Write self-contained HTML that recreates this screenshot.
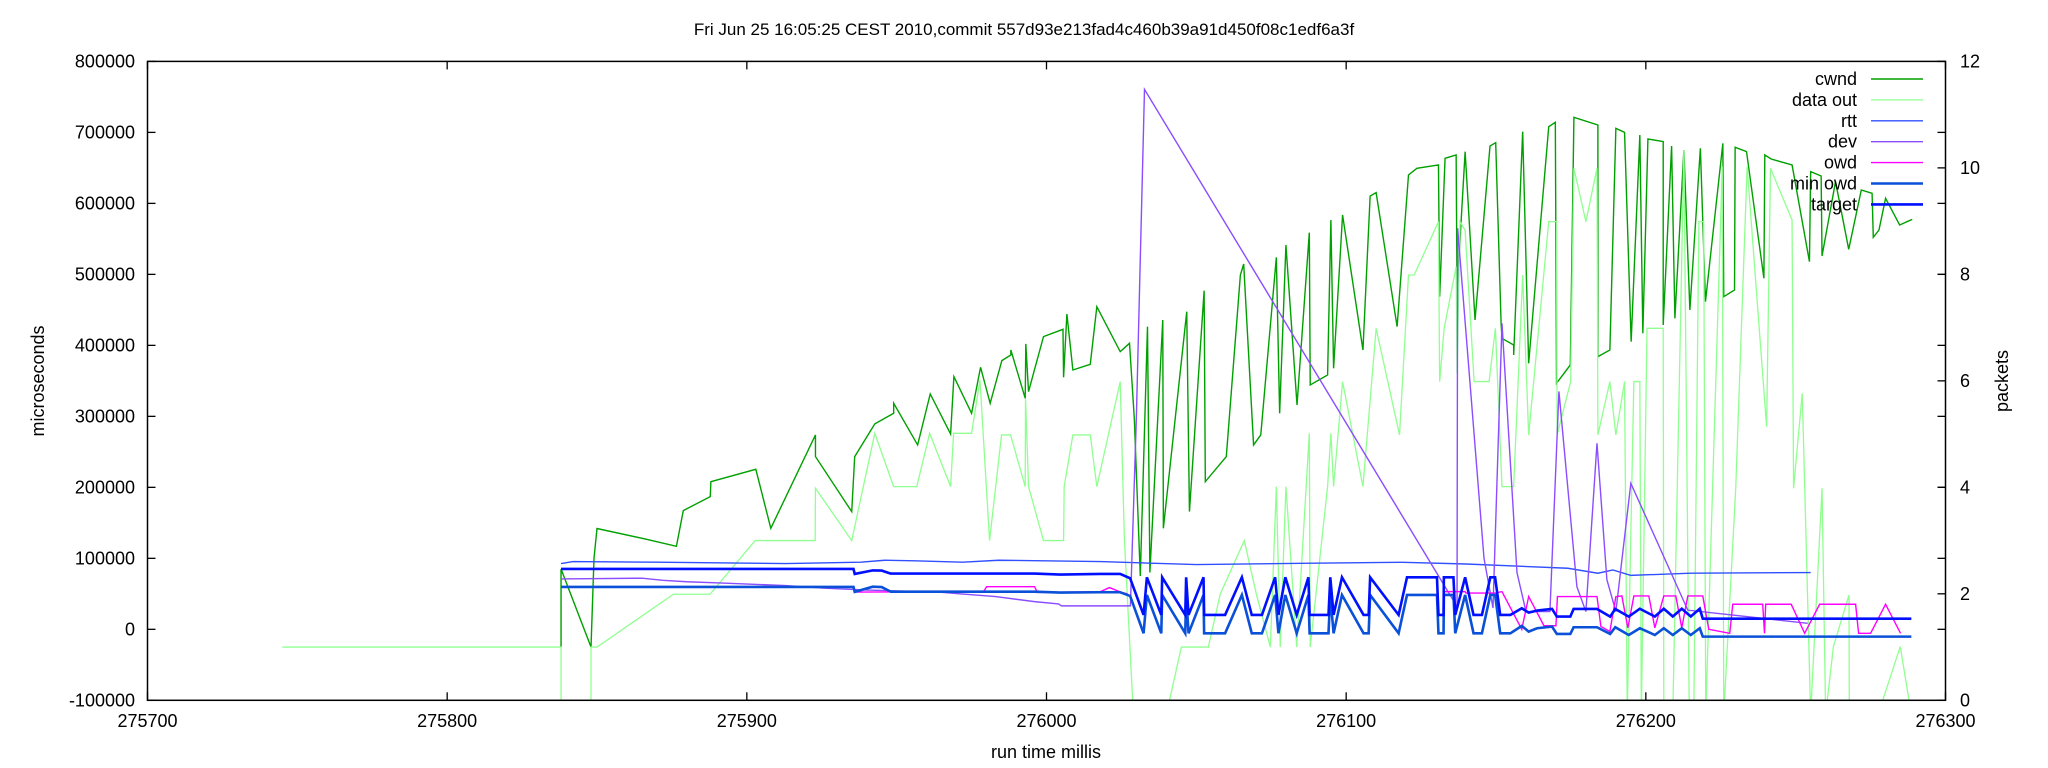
<!DOCTYPE html>
<html><head><meta charset="utf-8"><style>
html,body{margin:0;padding:0;background:#fff;}
svg{display:block;font-family:"Liberation Sans",Arial,sans-serif;}
</style></head><body>
<svg id="chart" width="2048" height="768" viewBox="0 0 2048 768" xmlns="http://www.w3.org/2000/svg">
<defs><clipPath id="clip"><rect x="147.5" y="61.4" width="1798" height="638.9"/></clipPath></defs>
<rect width="2048" height="768" fill="#fff"/>
<text x="1024" y="35" font-size="17" text-anchor="middle">Fri Jun 25 16:05:25 CEST 2010,commit 557d93e213fad4c460b39a91d450f08c1edf6a3f</text>
<text x="1046" y="758" font-size="18" text-anchor="middle">run time millis</text>
<text transform="translate(44,381) rotate(-90)" font-size="18" text-anchor="middle">microseconds</text>
<text transform="translate(2008,381) rotate(-90)" font-size="18" text-anchor="middle">packets</text>
<g id="ticks"></g>
<g id="series" clip-path="url(#clip)"></g>
<rect x="147.5" y="61.4" width="1798" height="638.9" fill="none" stroke="#000" stroke-width="1.5"/>
<g id="legend"></g>
</svg>
<script>
const xTicks = [275700,275800,275900,276000,276100,276200,276300];
const yTicks = [-100000,0,100000,200000,300000,400000,500000,600000,700000,800000];
const y2Ticks = [0,2,4,6,8,10,12];

const cwndT = [275838,275838,275848,275849,275850,275866,275876.5,275878.8,275887.8,275888,275903,275908,275922.9,275922.9,275935,275936,275942.7,275949,275949,275957,275961.2,275968,275969.1,275975,275978,275981.2,275985.1,275988.1,275988.1,275992.9,275993.1,275994,275999,276005.5,276005.7,276006.8,276008.8,276014.6,276016.8,276024.6,276027.7,276029.3,276031.3,
276033.7,276034.5,276038.8,276039,276046.8,276047.7,276052.6,276053,276060,276064.7,276065.8,276069.1,276071.5,276076.7,276077.8,276079.9,276083.6,276087.7,276088,276093.8,276094.9,276095.8,276098.8,276105.6,276108,276110,276117,276120.8,276123.6,276130.8,276131.2,276133,276136.7,276137,276139.7,276143,276148,276149.9,276151.7,276152,276155.9,276155.9,276158.9,276160.9,276167.6,276169.8,276170.2,276174.8,276176,276184,276184,276188,276190,276192.9,276195.1,276198,276199,276200.7,276205.8,276205.8,276208.6,276209.7,276212.7,276214.7,276218.2,276219.9,276225.7,276226,276229.6,276229.8,276233.6,276239.4,276239.7,276241.8,276248.8,276254.6,276255,276258.5,276258.8,276263.3,276267.7,276271.9,276275.5,276275.9,276277.8,276280,276284.7,276288.9];
const cwndV = [-25000,85000,-25000,100000,142000,127300,117000,167200,187000,208000,225400,142300,273800,243300,165800,243300,289300,304300,318400,259700,331500,275200,356000,304300,369100,318400,378500,386500,393500,325400,402000,334800,412300,422600,355000,444200,365300,373300,454500,391100,402900,297200,75000,
426400,80000,435700,142300,447500,165800,477100,208000,243300,499100,514600,259700,273800,524000,304300,541400,316000,558800,344200,358300,576600,367700,583700,393500,610400,615100,426400,640000,649400,654100,468600,663500,668200,475600,672900,435800,680800,685500,431100,409900,400500,386400,701000,374700,708100,714200,346600,372400,721200,710400,384100,393500,705700,700100,405200,696300,417000,690700,687000,428700,680800,438100,675200,449900,677600,461600,684600,468600,478000,679000,672900,494500,668200,662500,654100,517900,644700,638600,525900,630600,535300,618900,614200,552200,562500,607100,569600,577500];

const dataOutT = [275745,275838,275838,275848,275848,275850,275875.5,275887.7,275902.8,275922.8,
275922.9,275935,275942.7,275949,275956.7,275961,275968,275969,275975,275977.8,
275981,275985,275988,275992.9,275993,275994,275999,276005.7,276005.9,276008.8,
276014.6,276016.8,276024.6,276026,276029,276040,276045,276054,276058,276066,
276070,276074.7,276076.7,276078,276079.9,276083.5,276087.7,276088,276093.8,276094.9,
276095.8,276098.8,276105.6,276110,276117.8,276120.8,276122.7,276130.8,276131.2,276132.7,
276136.7,276137,276138,276139.7,276142.7,276147.7,276149.8,276152,276155.9,276158.9,
276160.9,276167.6,276170.2,276170.4,276174.9,276176,276180,276183.7,276184,276188,
276190,276192.9,276193.8,276196,276198,276198.5,276200.4,276205.8,276206,276209,
276212.7,276214.5,276216,276217.7,276219.3,276220,276225.5,276226,276230,276233.8,
276240.3,276241.6,276248.8,276249.3,276252.2,276255,276258.8,276260,276262.6,276267.8,
276267.9,276277.5,276284.9,276288.6];
const dataOutV = [-25000,-25000,-120000,-120000,-25000,-25000,49400,49400,125000,125000,
198700,125000,276100,201000,201000,276100,201000,276100,276100,351000,
125000,273800,273800,201000,325400,201000,125000,125000,201000,273800,
273800,201000,348900,126000,-120000,-120000,-25000,-25000,50000,125000,
50000,-25000,201000,-25000,201000,-25000,276100,-25000,201000,276100,
201000,348900,201000,424000,273800,499100,499100,574300,348900,424000,
510900,360600,574300,562000,349000,349000,424000,201000,201000,499100,
273800,574300,574300,273800,348900,649400,574300,649400,273800,348900,
273800,349000,-120000,349000,349000,-120000,424000,424000,-120000,-120000,
675200,-120000,-120000,574300,574300,-120000,651700,-120000,198700,651700,
285500,649400,576600,198700,332500,-120000,198700,-120000,-24300,48400,
-120000,-120000,-24300,-120000];

const rttT = [275838,275842,275870,275913,275938,275946,275956,275972,275984,276018,276050,276085,276119,276140,276174,276184,276189,276195,276215,276255];
const rttV = [92600,95400,94500,92600,94500,97300,96500,94500,97300,95400,91200,93000,94400,92000,86000,79000,83600,76000,79000,80000];

const devT = [275838,275865,275872,275880,275893,275913,275926,275939,275965,275971,275983,275996,276004,276005,276028,276030,276032.7,276137,276137.2,276146,276149,276152,276157,276160,276168,276171,276177,276180,276183.7,276187,276190,276195,276214,276254];
const devV = [71000,72000,69000,67000,65000,61600,58000,55500,52200,50000,46100,39000,35800,33000,33000,300000,760600,32000,565000,100000,30000,431000,80000,25000,25000,335000,60000,25000,262000,70000,25000,205700,27000,8500];

const owdT = [275838,275935.6,275936,275979,275980,275996,275997,276018,276021,276025,276027,276030,276132.6,276139.7,276140,276149.7,276152,276158.6,276160.9,276166,276170,276170.5,276183.7,276185,276188,276190,276192,276194,276196,276201,276203,276206,276210,276212,276214,276219,276221,276228,276229,276239,276239.6,276240,276248.5,276253,276258,276270,276271,276275,276280,276285];
const owdV = [59500,59500,52500,53000,60000,60000,52000,53000,58800,52000,50000,null,53100,53100,51000,51000,53100,0,46100,5000,5000,46100,46100,4000,-3000,46100,47000,2000,47000,47000,2000,47000,47000,2000,47000,47000,0,-5600,35300,35300,-5600,35300,35300,-5600,35300,35300,-5600,-5600,35300,-5600];

const targetT = [275838,275935.6,275936,275942,275945,275948,275996,276004.6,276017.9,276024.6,276027.9,276032.4,276033.5,276038.3,276038.6,276046.3,276046.6,276047.4,276052.4,276052.6,276059.6,276065.2,276068.5,276071.9,276076.3,276077.4,276079.7,276083.5,276087.4,276087.8,276094.1,276094.7,276095.8,276098.6,276105.8,276107.5,276108,276117.5,276120.3,276130.3,276130.8,276132.5,276132.6,276135.8,276136.4,276139.7,276142.5,276145.3,276148.1,276149.7,276151.4,276154.8,276158.6,276160.9,276163.7,276168.7,276170.3,276174.8,276175.9,276183.7,276188.1,276189.8,276194.3,276198,276203,276206,276209,276212,276215,276218,276219,276288.6];
const targetV = [85100,85100,78000,83000,82700,78500,78500,77100,78000,78000,71900,20300,73300,20300,73300,20300,73300,20300,73300,20300,20300,73300,20300,20300,73300,20300,73300,20300,73300,20300,20300,73300,20300,73300,20300,20300,73300,20300,73300,73300,20300,20300,73300,73300,20300,73300,20300,20300,73300,73300,20300,20300,29650,23550,26400,28700,17900,17900,28700,28700,17900,28700,17900,29000,18000,29000,18000,29000,18000,29000,15000,15000];
const minOwdV = [59700,59700,52700,60000,59500,53000,53000,51700,52200,52200,47000,-5600,48400,-5600,48400,-5600,48400,-5600,48400,-5600,-5600,48400,-5600,-5600,48400,-5600,48400,-5600,48400,-5600,-5600,48400,-5600,48400,-5600,-5600,48400,-5600,48400,48400,-5600,-5600,48400,48400,-5600,48400,-5600,-5600,48400,48400,-5600,-5600,4800,-3200,1500,3800,-6500,-6500,2900,2900,-6500,2900,-8000,1500,-8000,1500,-8000,1500,-8000,1500,-10300,-10300];

const legendLabels = ["cwnd","data out","rtt","dev","owd","min owd","target"];

const NS = "http://www.w3.org/2000/svg";
const L = 147.5, R = 1945.5, T = 61.4, B = 700.3;
function xs(v){ return L + (v - 275700) * (R - L) / 600; }
function ys(v){ return T + (800000 - v) * (B - T) / 900000; }
function y2s(v){ return B - v * (B - T) / 12; }
function mk(tag, attrs, parent){ const e = document.createElementNS(NS, tag); for (const k in attrs) e.setAttribute(k, attrs[k]); parent.appendChild(e); return e; }

const tg = document.getElementById('ticks');
xTicks.forEach(v => {
  const x = xs(v);
  const t1 = mk('line', {x1:x, x2:x, y1:B, y2:B-8, stroke:'#000','stroke-width':1.3}, tg);
  
  
  const t2 = mk('line', {x1:x, x2:x, y1:T, y2:T+8, stroke:'#000','stroke-width':1.3}, tg);
  
  
  const lb = mk('text', {x:x, y:727, 'font-size':18, 'text-anchor':'middle'}, tg);
  lb.textContent = v;
  
  
});
yTicks.forEach(v => {
  const y = ys(v);
  const t1 = mk('line', {x1:L, x2:L+8, y1:y, y2:y, stroke:'#000','stroke-width':1.3}, tg);
  
  
  const t2 = mk('line', {x1:R, x2:R-8, y1:y, y2:y, stroke:'#000','stroke-width':1.3}, tg);
  
  
  const lb = mk('text', {x:135, y:y+6, 'font-size':18, 'text-anchor':'end'}, tg);
  lb.textContent = v;
  
  
});
y2Ticks.forEach(v => {
  const y = y2s(v);
  const t1 = mk('line', {x1:R, x2:R-8, y1:y, y2:y, stroke:'#000','stroke-width':1.3}, tg);
  
  
  const lb = mk('text', {x:1960, y:y+6, 'font-size':18, 'text-anchor':'start'}, tg);
  lb.textContent = v;
  
  
});

function pathD(ts, vs){
  let d = '', pen = false;
  for (let i = 0; i < ts.length; i++){
    if (vs[i] === null){ pen = false; continue; }
    d += (pen ? 'L' : 'M') + xs(ts[i]).toFixed(2) + ',' + ys(vs[i]).toFixed(2);
    pen = true;
  }
  return d;
}
const sg = document.getElementById('series');
const styles = [
  {name:'cwnd-line', color:'#00a000', w:1.4, t:cwndT, v:cwndV},
  {name:'data-out-line', color:'#90ff90', w:1.3, t:dataOutT, v:dataOutV},
  {name:'rtt-line', color:'#3050ff', w:1.4, t:rttT, v:rttV},
  {name:'dev-line', color:'#8a4dff', w:1.4, t:devT, v:devV},
  {name:'owd-line', color:'#ff00ff', w:1.4, t:owdT, v:owdV},
  {name:'min-owd-line', color:'#0a50d8', w:2.6, t:targetT, v:minOwdV},
  {name:'target-line', color:'#0010ff', w:2.6, t:targetT, v:targetV}
];
styles.forEach(s => {
  const p = mk('path', {d:pathD(s.t, s.v), fill:'none', stroke:s.color, 'stroke-width':s.w, 'stroke-linejoin':'miter'}, sg);
  
  
});

const lg = document.getElementById('legend');
legendLabels.forEach((lab, i) => {
  const y = 79 + i * 20.9;
  const tx = mk('text', {x:1857, y:y+6, 'font-size':18, 'text-anchor':'end'}, lg);
  tx.textContent = lab;
  
  
  const ln = mk('line', {x1:1871, x2:1923, y1:y, y2:y, stroke:styles[i].color, 'stroke-width':styles[i].w}, lg);
  
  
});
</script>
</body></html>
